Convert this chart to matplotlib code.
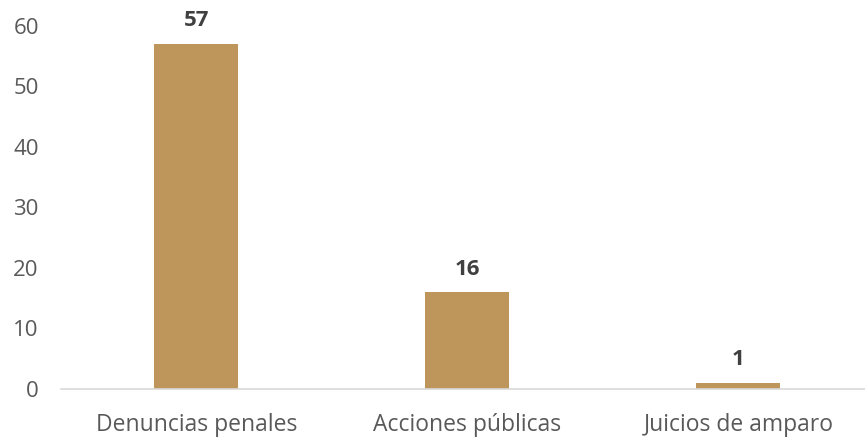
import matplotlib.pyplot as plt

# datos
categorias = ["Denuncias penales", "Acciones públicas", "Juicios de amparo"]
valores = [57, 16, 1]

plt.rcParams["font.family"] = ["Open Sans", "DejaVu Sans"]

fig = plt.figure(figsize=(8.65, 4.38), dpi=100)
ax = fig.add_axes([0.0705, 0.112, 0.9295, 0.829])

pos = list(range(len(categorias)))
barras = ax.bar(pos, valores, width=0.31, color="#BE955A")

for b, v in zip(barras, valores):
    ax.annotate(str(v), (b.get_x() + b.get_width() / 2, v),
                xytext=(0, 9), textcoords="offset points",
                ha="center", va="bottom", fontsize=16,
                fontweight="bold", color="#404040")

ax.set_xlim(-0.5, 2.467)
ax.set_ylim(0, 60)
ax.set_yticks(range(0, 61, 10))
ax.set_xticks(pos)
ax.set_xticklabels(categorias)
ax.tick_params(axis="y", length=0, pad=16, labelsize=16, labelcolor="#595959")
ax.tick_params(axis="x", length=0, pad=17, labelsize=16.5, labelcolor="#595959")

for s in ["top", "right", "left"]:
    ax.spines[s].set_visible(False)
ax.spines["bottom"].set_color("#D9D9D9")
ax.spines["bottom"].set_linewidth(1.2)

fig.savefig("out.png", dpi=100)
